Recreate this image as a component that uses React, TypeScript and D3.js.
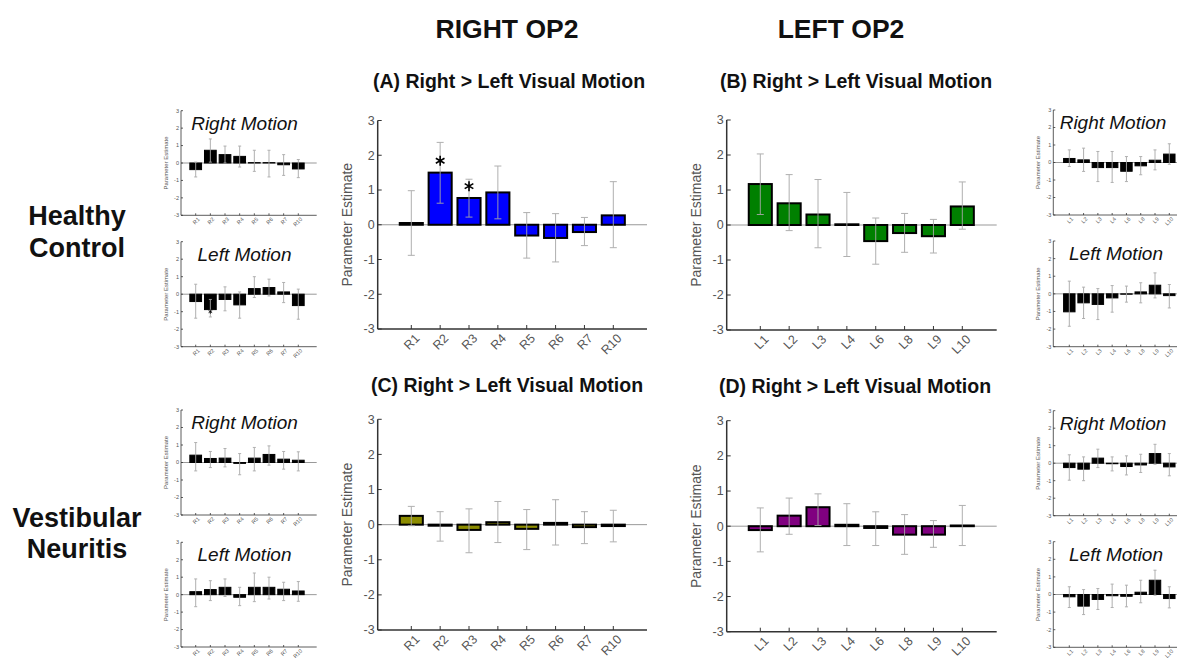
import React from "react";
import * as d3 from "d3";

// ---------- data ----------
const rightRegions = ["R1", "R2", "R3", "R4", "R5", "R6", "R7", "R10"];
const leftRegions = ["L1", "L2", "L3", "L4", "L6", "L8", "L9", "L10"];
const yTicks = [-3, -2, -1, 0, 1, 2, 3];

// (A) Healthy control, right OP2, Right > Left visual motion
const hcRightOP2Contrast = [0.05, 1.5, 0.77, 0.93, -0.31, -0.38, -0.21, 0.27];
const hcRightOP2ContrastHi = [0.98, 2.37, 1.31, 1.69, 0.35, 0.32, 0.21, 1.24];
const hcRightOP2ContrastLo = [-0.88, 0.62, 0.22, 0.17, -0.96, -1.07, -0.6, -0.66];
const hcRightOP2ContrastStars = [null, 1.84, 1.11, null, null, null, null, null];

// (B) Healthy control, left OP2
const hcLeftOP2Contrast = [1.17, 0.62, 0.3, 0.02, -0.46, -0.23, -0.32, 0.53];
const hcLeftOP2ContrastHi = [2.03, 1.44, 1.3, 0.93, 0.2, 0.33, 0.16, 1.23];
const hcLeftOP2ContrastLo = [0.3, -0.16, -0.65, -0.9, -1.12, -0.78, -0.8, -0.12];

// (C) Vestibular neuritis, right OP2
const vnRightOP2Contrast = [0.25, -0.03, -0.15, 0.07, -0.12, 0.05, -0.07, -0.04];
const vnRightOP2ContrastHi = [0.52, 0.37, 0.45, 0.66, 0.43, 0.71, 0.37, 0.41];
const vnRightOP2ContrastLo = [-0.03, -0.47, -0.8, -0.51, -0.71, -0.58, -0.54, -0.49];

// (D) Vestibular neuritis, left OP2
const vnLeftOP2Contrast = [-0.11, 0.3, 0.54, 0.04, -0.05, -0.24, -0.24, 0.02];
const vnLeftOP2ContrastHi = [0.52, 0.8, 0.92, 0.64, 0.41, 0.33, 0.16, 0.59];
const vnLeftOP2ContrastLo = [-0.73, -0.23, 0.02, -0.55, -0.55, -0.8, -0.6, -0.55];

// small panels, right OP2 (left side)
const hcRightOP2RightMotion = [-0.38, 0.73, 0.48, 0.38, 0.02, 0.02, -0.1, -0.34];
const hcRightOP2RightMotionHi = [0.05, 1.38, 0.97, 0.97, 0.73, 0.73, 0.48, 0.2];
const hcRightOP2RightMotionLo = [-0.8, 0.05, 0.0, -0.23, -0.48, -0.8, -0.71, -0.84];

const hcRightOP2LeftMotion = [-0.42, -0.88, -0.3, -0.61, 0.32, 0.38, 0.13, -0.65];
const hcRightOP2LeftMotionHi = [0.57, -0.3, 0.42, 0.13, 1.0, 0.86, 0.67, 0.29];
const hcRightOP2LeftMotionLo = [-1.37, -1.3, -0.95, -1.37, -0.19, -0.1, -0.48, -1.43];
const hcRightOP2LeftMotionStars = [null, -1.0, null, null, null, null, null, null];

const vnRightOP2RightMotion = [0.42, 0.23, 0.25, -0.05, 0.25, 0.46, 0.19, 0.13];
const vnRightOP2RightMotionHi = [1.14, 0.63, 0.8, 0.51, 0.86, 0.95, 0.63, 0.61];
const vnRightOP2RightMotionLo = [-0.48, -0.29, -0.25, -0.7, -0.48, -0.15, -0.38, -0.48];

const vnRightOP2LeftMotion = [0.17, 0.29, 0.42, -0.15, 0.42, 0.42, 0.31, 0.21];
const vnRightOP2LeftMotionHi = [0.9, 0.8, 0.9, 0.42, 1.24, 1.0, 0.71, 0.75];
const vnRightOP2LeftMotionLo = [-0.69, -0.34, -0.1, -0.63, -0.4, -0.25, -0.34, -0.38];

// small panels, left OP2 (right side)
const hcLeftOP2RightMotion = [0.23, 0.15, -0.29, -0.29, -0.5, -0.19, 0.13, 0.48];
const hcLeftOP2RightMotionHi = [0.72, 0.82, 0.63, 0.63, 0.34, 0.34, 0.72, 1.07];
const hcLeftOP2RightMotionLo = [-0.23, -0.51, -1.09, -1.14, -1.09, -0.7, -0.42, -0.1];

const hcLeftOP2LeftMotion = [-1.02, -0.51, -0.6, -0.23, -0.02, 0.11, 0.49, -0.1];
const hcLeftOP2LeftMotionHi = [0.72, 0.38, 0.3, 0.47, 0.44, 0.63, 1.19, 0.53];
const hcLeftOP2LeftMotionLo = [-1.84, -1.4, -1.46, -1.04, -0.47, -0.51, -0.23, -0.8];

const vnLeftOP2RightMotion = [-0.25, -0.34, 0.29, -0.03, -0.19, -0.1, 0.55, -0.21];
const vnLeftOP2RightMotionHi = [0.48, 0.36, 0.8, 0.36, 0.42, 0.51, 1.08, 0.55];
const vnLeftOP2RightMotionLo = [-0.97, -1.0, -0.25, -0.44, -0.67, -0.53, -0.06, -0.72];

const vnLeftOP2LeftMotion = [-0.13, -0.66, -0.28, -0.07, -0.1, 0.13, 0.81, -0.23];
const vnLeftOP2LeftMotionHi = [0.44, 0.28, 0.34, 0.59, 0.53, 0.81, 1.38, 0.44];
const vnLeftOP2LeftMotionLo = [-0.74, -1.14, -0.85, -0.74, -0.7, -0.47, -0.04, -0.76];

const noStars = [null, null, null, null, null, null, null, null];

// ---------- drawing ----------
const FONT = "'Liberation Sans', Arial, Helvetica, sans-serif";

type PanelProps = {
  x0: number; x1: number; t0: number; t1: number; yTop: number; yBot: number;
  cats: string[]; vals: number[]; hi: number[]; lo: number[]; stars: (number | null)[];
  color: string; small?: boolean; title?: string; titleX?: number;
};

function Panel(p: PanelProps) {
  const xs = d3.scaleLinear().domain([0, p.cats.length - 1]).range([p.t0, p.t1]);
  const ys = d3.scaleLinear().domain([-3, 3]).range([p.yBot, p.yTop]);
  const step = xs(1) - xs(0);
  const bw = step * 0.8;
  const sm = !!p.small;
  const tickFont = sm ? 5.5 : 12.5;
  const labFont = sm ? 6 : 14;
  const capW = sm ? 3 : 7;
  const barStroke = sm ? 1 : 2;
  const tickLen = sm ? 2 : 4;
  const axisColor = "#333";
  const textColor = "#555";
  const star = d3.symbol().type(d3.symbolAsterisk).size(sm ? 12 : 70)();
  return (
    <g>
      <line x1={p.x0} x2={p.x1} y1={ys(0)} y2={ys(0)} stroke="#999" strokeWidth={1} />
      {p.vals.map((v, i) => (
        <rect key={"b" + i} x={xs(i) - bw / 2} y={ys(Math.max(v, 0))}
          width={bw} height={Math.abs(ys(v) - ys(0))}
          fill={p.color} stroke="#000" strokeWidth={barStroke} />
      ))}
      {p.vals.map((v, i) => (
        <g key={"e" + i} stroke="#a8a8a8" strokeWidth={1} opacity={0.9}>
          <line x1={xs(i)} x2={xs(i)} y1={ys(p.hi[i])} y2={ys(p.lo[i])} />
          <line x1={xs(i) - capW / 2} x2={xs(i) + capW / 2} y1={ys(p.hi[i])} y2={ys(p.hi[i])} />
          <line x1={xs(i) - capW / 2} x2={xs(i) + capW / 2} y1={ys(p.lo[i])} y2={ys(p.lo[i])} />
        </g>
      ))}
      {p.stars.map((s, i) =>
        s === null ? null : (
          <path key={"s" + i} d={star as string} transform={`translate(${xs(i)},${ys(s)})`}
            stroke="#000" strokeWidth={sm ? 0.8 : 1.6} fill="none" />
        )
      )}
      <line x1={p.x0} x2={p.x0} y1={p.yTop} y2={p.yBot} stroke={axisColor} strokeWidth={sm ? 0.8 : 1.5} />
      <line x1={p.x0} x2={p.x1} y1={p.yBot} y2={p.yBot} stroke={axisColor} strokeWidth={sm ? 0.8 : 1.5} />
      {yTicks.map((t) => (
        <g key={"yt" + t}>
          <line x1={p.x0} x2={p.x0 + tickLen} y1={ys(t)} y2={ys(t)} stroke={axisColor} strokeWidth={sm ? 0.8 : 1} />
          <text x={p.x0 - (sm ? 2 : 3)} y={ys(t)} dy="0.35em" textAnchor="end"
            fontSize={tickFont} fill={textColor} fontFamily={FONT}>{t}</text>
        </g>
      ))}
      {p.cats.map((c, i) => (
        <g key={"xt" + i}>
          <line x1={xs(i)} x2={xs(i)} y1={p.yBot} y2={p.yBot - tickLen} stroke={axisColor} strokeWidth={sm ? 0.8 : 1} />
          <text transform={`translate(${xs(i) + (sm ? 3 : 6)},${p.yBot + (sm ? 3 : 7)}) rotate(-45)`}
            textAnchor="end" dy="0.35em" fontSize={tickFont} fill={textColor} fontFamily={FONT}>{c}</text>
        </g>
      ))}
      <text transform={`translate(${p.x0 - (sm ? 13 : 26)},${(p.yTop + p.yBot) / 2}) rotate(-90)`}
        textAnchor="middle" fontSize={labFont} fill={textColor} fontFamily={FONT}>Parameter Estimate</text>
      {p.title ? (
        <text x={p.titleX} y={p.yTop + 19} textAnchor="middle" fontSize={19} fontStyle="italic"
          fill="#111" fontFamily={FONT}>{p.title}</text>
      ) : null}
    </g>
  );
}

const mainA = { x0: 377.7, x1: 647, t0: 411.3, t1: 613.3 };
const mainB = { x0: 726.7, x1: 996.7, t0: 760.3, t1: 962.3 };
const smallL = { x0: 181, x1: 316.7, t0: 195.7, t1: 298.3 };
const smallR = { x0: 1053.3, x1: 1190, t0: 1069.3, t1: 1169.3 };

export default function App() {
  return (
    <svg width={1177} height={658} style={{ position: "absolute", left: 0, top: 0, background: "#fff" }}
      fontFamily={FONT}>
      <rect width={1177} height={658} fill="#fff" />
      <text x={507} y={38} textAnchor="middle" fontSize={26.5} fontWeight="bold" fill="#111">RIGHT OP2</text>
      <text x={841} y={38} textAnchor="middle" fontSize={26.5} fontWeight="bold" fill="#111">LEFT OP2</text>
      <text x={77} y={225} textAnchor="middle" fontSize={27} fontWeight="bold" fill="#111">Healthy</text>
      <text x={77} y={257} textAnchor="middle" fontSize={27} fontWeight="bold" fill="#111">Control</text>
      <text x={77} y={527} textAnchor="middle" fontSize={27} fontWeight="bold" fill="#111">Vestibular</text>
      <text x={77} y={558} textAnchor="middle" fontSize={27} fontWeight="bold" fill="#111">Neuritis</text>
      <text x={509} y={88} textAnchor="middle" fontSize={19.5} fontWeight="bold" fill="#111">(A) Right &gt; Left Visual Motion</text>
      <text x={856} y={88} textAnchor="middle" fontSize={19.5} fontWeight="bold" fill="#111">(B) Right &gt; Left Visual Motion</text>
      <text x={507} y={392} textAnchor="middle" fontSize={19.5} fontWeight="bold" fill="#111">(C) Right &gt; Left Visual Motion</text>
      <text x={855} y={393} textAnchor="middle" fontSize={19.5} fontWeight="bold" fill="#111">(D) Right &gt; Left Visual Motion</text>

      <Panel {...mainA} yTop={120.5} yBot={329} cats={rightRegions} vals={hcRightOP2Contrast}
        hi={hcRightOP2ContrastHi} lo={hcRightOP2ContrastLo} stars={hcRightOP2ContrastStars} color="#0000ff" />
      <Panel {...mainB} yTop={120} yBot={330} cats={leftRegions} vals={hcLeftOP2Contrast}
        hi={hcLeftOP2ContrastHi} lo={hcLeftOP2ContrastLo} stars={noStars} color="#008000" />
      <Panel {...mainA} yTop={419.3} yBot={630} cats={rightRegions} vals={vnRightOP2Contrast}
        hi={vnRightOP2ContrastHi} lo={vnRightOP2ContrastLo} stars={noStars} color="#8c8c00" />
      <Panel {...mainB} yTop={420.7} yBot={631.7} cats={leftRegions} vals={vnLeftOP2Contrast}
        hi={vnLeftOP2ContrastHi} lo={vnLeftOP2ContrastLo} stars={noStars} color="#800080" />

      <Panel {...smallL} small yTop={110.7} yBot={215.3} cats={rightRegions} vals={hcRightOP2RightMotion}
        hi={hcRightOP2RightMotionHi} lo={hcRightOP2RightMotionLo} stars={noStars} color="#000"
        title="Right Motion" titleX={244.5} />
      <Panel {...smallL} small yTop={241.7} yBot={346.7} cats={rightRegions} vals={hcRightOP2LeftMotion}
        hi={hcRightOP2LeftMotionHi} lo={hcRightOP2LeftMotionLo} stars={hcRightOP2LeftMotionStars} color="#000"
        title="Left Motion" titleX={244.5} />
      <Panel {...smallL} small yTop={410} yBot={515} cats={rightRegions} vals={vnRightOP2RightMotion}
        hi={vnRightOP2RightMotionHi} lo={vnRightOP2RightMotionLo} stars={noStars} color="#000"
        title="Right Motion" titleX={244.5} />
      <Panel {...smallL} small yTop={542.3} yBot={647} cats={rightRegions} vals={vnRightOP2LeftMotion}
        hi={vnRightOP2LeftMotionHi} lo={vnRightOP2LeftMotionLo} stars={noStars} color="#000"
        title="Left Motion" titleX={244.5} />

      <Panel {...smallR} small yTop={110} yBot={215} cats={leftRegions} vals={hcLeftOP2RightMotion}
        hi={hcLeftOP2RightMotionHi} lo={hcLeftOP2RightMotionLo} stars={noStars} color="#000"
        title="Right Motion" titleX={1113} />
      <Panel {...smallR} small yTop={241} yBot={346.7} cats={leftRegions} vals={hcLeftOP2LeftMotion}
        hi={hcLeftOP2LeftMotionHi} lo={hcLeftOP2LeftMotionLo} stars={noStars} color="#000"
        title="Left Motion" titleX={1116} />
      <Panel {...smallR} small yTop={410.7} yBot={515.7} cats={leftRegions} vals={vnLeftOP2RightMotion}
        hi={vnLeftOP2RightMotionHi} lo={vnLeftOP2RightMotionLo} stars={noStars} color="#000"
        title="Right Motion" titleX={1113} />
      <Panel {...smallR} small yTop={541.7} yBot={647.3} cats={leftRegions} vals={vnLeftOP2LeftMotion}
        hi={vnLeftOP2LeftMotionHi} lo={vnLeftOP2LeftMotionLo} stars={noStars} color="#000"
        title="Left Motion" titleX={1116} />
    </svg>
  );
}
